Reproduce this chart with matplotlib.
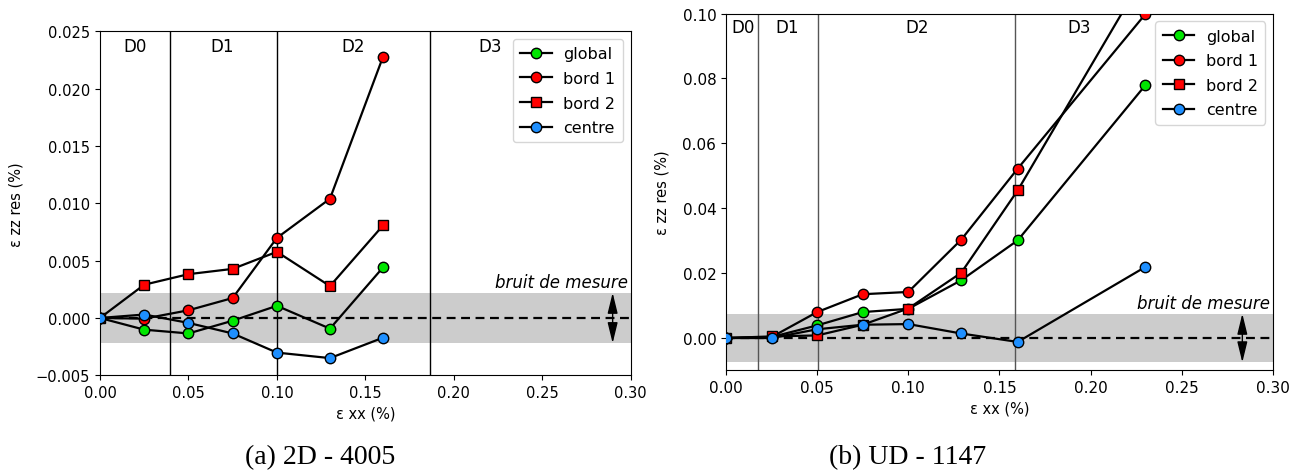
"""
Residual out-of-plane strain vs in-plane strain, two specimens side by side.
"""

import matplotlib

matplotlib.use("Agg")

import matplotlib.pyplot as plt

# --- (a) 2D - 4005 ---------------------------------------------------------
exx_a = [0.0, 0.025, 0.05, 0.075, 0.10, 0.13, 0.16]
global_a = [0.0, -0.00102, -0.00135, -0.00024, 0.00106, -0.00093, 0.00441]
bord1_a = [0.0, -0.00006, 0.00067, 0.00174, 0.00698, 0.01040, 0.02278]
bord2_a = [0.0, 0.00290, 0.00382, 0.00428, 0.00577, 0.00278, 0.00807]
centre_a = [0.0, 0.00030, -0.00043, -0.00135, -0.00302, -0.00350, -0.00172]
bounds_a = [0.0398, 0.1003, 0.1866]
zones_a_x = [0.020, 0.069, 0.143, 0.2207]
noise_a = 0.0022

# --- (b) UD - 1147 ---------------------------------------------------------
exx_b = [0.0, 0.025, 0.05, 0.075, 0.10, 0.129, 0.16, 0.23]
global_b = [0.0, 0.0003, 0.0039, 0.0080, 0.0090, 0.0178, 0.0301, 0.0779]
bord1_b = [0.0, 0.0003, 0.0080, 0.0135, 0.0142, 0.0303, 0.0522, 0.0998]
bord2_b = [0.0, 0.0005, 0.0008, 0.0041, 0.0091, 0.0201, 0.0455, 0.1124]
centre_b = [0.0, 0.0000, 0.0027, 0.0041, 0.0043, 0.0014, -0.0012, 0.0219]
bounds_b = [0.0178, 0.0502, 0.1584]
zones_b_x = [0.0093, 0.0335, 0.1049, 0.1938]
noise_b = 0.0075

zone_labels = ["D0", "D1", "D2", "D3"]
series_labels = ["global", "bord 1", "bord 2", "centre"]
series_colors = ["#00e600", "#ff0000", "#ff0000", "#1e8fff"]
series_markers = ["o", "o", "s", "o"]


def draw_panel(ax, x, series, bounds, zones_x, zone_y, noise, ylim, yticks,
               ytickfmt, arrow_x, vline_color, tick_size):
    ax.axhspan(-noise, noise, color="#cccccc", zorder=0, lw=0)
    ax.axhline(0.0, color="black", lw=1.6, ls=(0, (4, 2.5)), zorder=1)
    for b in bounds:
        ax.axvline(b, color=vline_color, lw=1.0, zorder=1)
    for zx, lab in zip(zones_x, zone_labels):
        ax.text(zx, zone_y, lab, ha="center", va="center", fontsize=12)

    for ys, lab, col, mk in zip(series, series_labels, series_colors, series_markers):
        ax.plot(x, ys, color="black", lw=1.6, marker=mk, markersize=7.5,
                markerfacecolor=col, markeredgecolor="black", markeredgewidth=1.0,
                label=lab, zorder=3)

    ax.text(0.2985, noise + (ylim[1] - ylim[0]) * 0.006, "bruit de mesure",
            ha="right", va="bottom", fontsize=12, style="italic")
    ax.annotate("", xy=(arrow_x, -noise), xytext=(arrow_x, noise),
                arrowprops=dict(arrowstyle="<|-|>,head_length=0.9,head_width=0.22",
                                color="black", lw=1.0, mutation_scale=14,
                                shrinkA=0, shrinkB=0))

    ax.set_xlim(0.0, 0.30)
    ax.set_ylim(*ylim)
    ax.set_xticks([0.0, 0.05, 0.10, 0.15, 0.20, 0.25, 0.30])
    ax.set_xticklabels([f"{v:.2f}" for v in ax.get_xticks()])
    ax.set_yticks(yticks)
    ax.set_yticklabels([ytickfmt.format(v).replace("-", "\u2212") for v in yticks])
    ax.tick_params(labelsize=tick_size)
    ax.set_xlabel("\u03b5 xx (%)", fontsize=10.5)
    ax.set_ylabel("\u03b5 zz res (%)", fontsize=10.5, labelpad=9)
    ax.legend(loc="upper right", fontsize=11.5, handlelength=2.0,
              borderpad=0.45, labelspacing=0.6, handletextpad=0.7)


fig = plt.figure(figsize=(13.02, 4.77), dpi=100)
ax_a = fig.add_axes([0.0768, 0.2111, 0.4076, 0.7212])
ax_b = fig.add_axes([0.5576, 0.2212, 0.4201, 0.7484])

draw_panel(ax_a, exx_a, [global_a, bord1_a, bord2_a, centre_a], bounds_a,
           zones_a_x, 0.02375, noise_a, (-0.005, 0.025),
           [-0.005, 0.0, 0.005, 0.010, 0.015, 0.020, 0.025], "{:.3f}",
           0.2898, "black", 10.5)
draw_panel(ax_b, exx_b, [global_b, bord1_b, bord2_b, centre_b], bounds_b,
           zones_b_x, 0.0959, noise_b, (-0.01, 0.10),
           [0.0, 0.02, 0.04, 0.06, 0.08, 0.10], "{:.2f}",
           0.2832, "#555555", 11)

fig.text(0.246, 0.04, "(a) 2D - 4005", ha="center", va="center",
         fontsize=20, family="Liberation Serif")
fig.text(0.697, 0.04, "(b) UD - 1147", ha="center", va="center",
         fontsize=20, family="Liberation Serif")

fig.savefig("out.png", dpi=100)
